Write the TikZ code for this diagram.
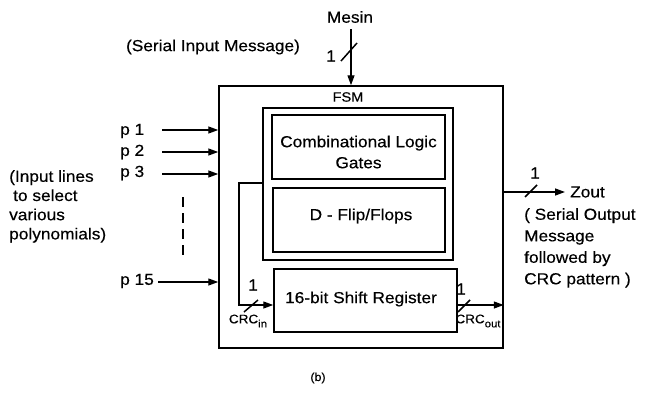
\documentclass[tikz,border=0pt]{standalone}
\usepackage{fontspec}
\setmainfont{Liberation Sans}[FakeStretch=1.08,FakeBold=0.4]
\usetikzlibrary{arrows.meta}
\begin{document}
\begin{tikzpicture}[x=1pt,y=-1pt,
  box/.style={draw, line width=1.5pt, inner sep=0pt},
  wire/.style={line width=1.3pt},
  arr/.style={wire, -{Triangle[length=10pt,width=7pt]}},
  txt/.style={font=\fontsize{16}{19}\selectfont, inner sep=0pt},
  smalltxt/.style={font=\fontsize{12.5}{14}\selectfont, inner sep=0pt},
  slash/.style={line width=1.5pt},
]
\useasboundingbox (0,0) rectangle (645,399);

% FSM block and its internal blocks
\node[box, minimum width=284pt, minimum height=262pt] (fsm) at (361,217) {};
\node[txt, font=\fontsize{13.5}{15}\selectfont] (fsmlabel) at (348,97) {FSM};
\node[box, minimum width=190pt, minimum height=152pt] (core) at (358,184) {};
\node[box, minimum width=173pt, minimum height=64pt] (comb) at (358.5,147) {};
\node[txt, align=center, font=\fontsize{16}{21}\selectfont] (combtext) at (358.5,152) {Combinational Logic\\Gates};
\node[box, minimum width=172pt, minimum height=64pt] (dff) at (359,220) {};
\node[txt] (dfftext) at (361,216) {D - Flip/Flops};
\node[box, minimum width=183pt, minimum height=63pt] (sr) at (365.5,300.5) {};
\node[txt] (srtext) at (361,299) {16-bit Shift Register};

% Serial input
\node[txt] (mesin) at (350,17) {Mesin};
\node[txt] (mesinnote) at (213,47) {(Serial Input Message)};
\coordinate (mesintop) at (351,29);
\draw[arr] (mesintop) -- (mesintop |- fsm.north);
\coordinate (mesinslash) at (349,52);
\draw[slash] ([shift={(-8,9)}]mesinslash) -- ([shift={(8,-9)}]mesinslash);
\node[txt] (mesinw) at (331,56) {1};

% Polynomial select lines
\node[txt, anchor=west] (p1) at (120,131) {p 1};
\node[txt, anchor=west] (p2) at (120,152) {p 2};
\node[txt, anchor=west] (p3) at (120,173) {p 3};
\node[txt, anchor=west] (p15) at (120,281) {p 15};
\coordinate (i1) at (162,130);
\coordinate (i2) at (162,152);
\coordinate (i3) at (162,174);
\coordinate (i15) at (158,282);
\draw[arr] (i1) -- (i1 -| fsm.west);
\draw[arr] (i2) -- (i2 -| fsm.west);
\draw[arr] (i3) -- (i3 -| fsm.west);
\draw[arr] (i15) -- (i15 -| fsm.west);
\coordinate (dotsA) at (183,197);
\coordinate (dotsB) at (183,257);
\draw[wire, dash pattern=on 10pt off 6pt] (dotsA) -- (dotsB);
\node[txt, anchor=north west, align=left, font=\fontsize{16}{19.2}\selectfont] (selnote) at (9,170)
  {(Input lines\\\hspace*{4pt}to select\\various\\polynomials)};

% Feedback into the shift register
\coordinate (fbA) at (core.west |- 0,183);
\coordinate (fbB) at (239,305);
\draw[arr] (fbA) -| (fbB) -- (fbB -| sr.west);
\coordinate (crcinslash) at (251,306);
\draw[slash] ([shift={(-7,6)}]crcinslash) -- ([shift={(7,-6)}]crcinslash);
\node[txt] (crcinw) at (253,285) {1};
\node[smalltxt] (crcin) at (248,321) {CRC\raisebox{-4pt}{\fontsize{10.5}{10}\selectfont in}};

% Shift register output
\coordinate (crcoutA) at (sr.east |- 0,305);
\draw[arr] (crcoutA) -- (crcoutA -| fsm.east);
\coordinate (crcoutslash) at (464,306);
\draw[slash] ([shift={(-6,6)}]crcoutslash) -- ([shift={(6,-6)}]crcoutslash);
\node[txt] (crcoutw) at (461,289) {1};
\node[smalltxt] (crcout) at (478,321) {CRC\raisebox{-4pt}{\fontsize{10.5}{10}\selectfont out}};

% Serial output
\coordinate (zoutA) at (fsm.east |- 0,192);
\coordinate (zoutB) at (565,192);
\draw[arr] (zoutA) -- (zoutB);
\coordinate (zoutslash) at (531,191);
\draw[slash] ([shift={(-6,6)}]zoutslash) -- ([shift={(6,-6)}]zoutslash);
\node[txt] (zoutw) at (535,173) {1};
\node[txt, anchor=west] (zout) at (570,192) {Zout};
\node[txt, anchor=north west, align=left, font=\fontsize{16}{21.5}\selectfont] (zoutnote) at (524,208)
  {( Serial Output\\Message\\followed by\\CRC pattern )};

\node[smalltxt, font=\fontsize{11.5}{13}\selectfont] (caption) at (318,378) {(b)};
\end{tikzpicture}
\end{document}
